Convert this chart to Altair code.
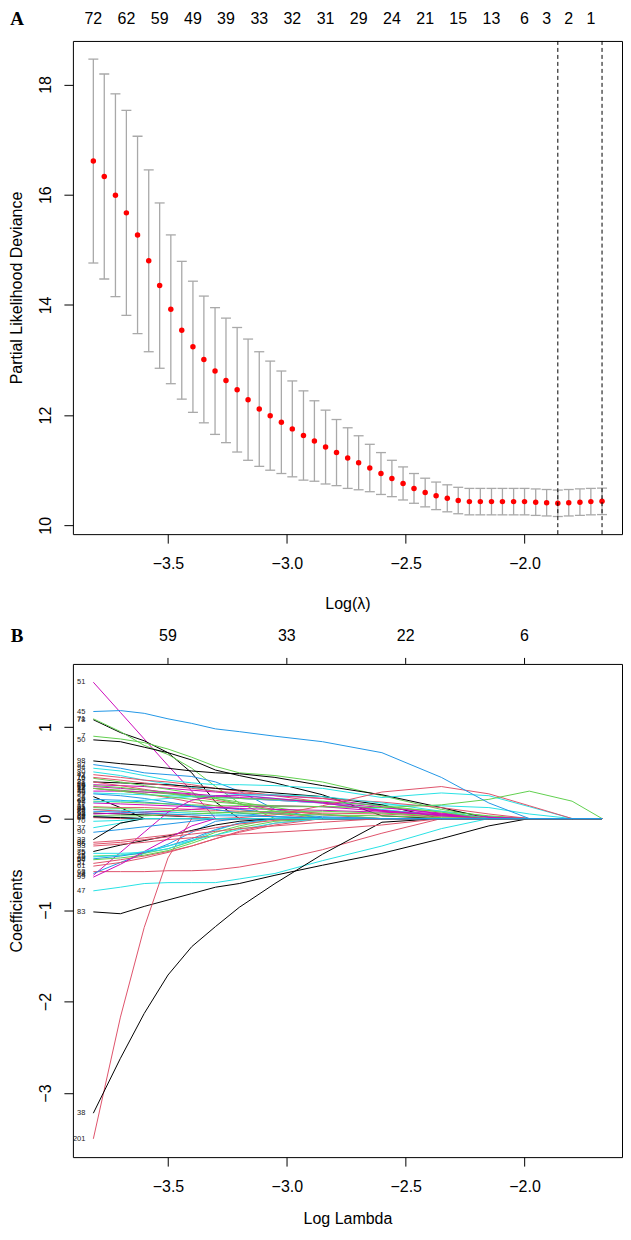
import altair as alt
import pandas as pd

# ---------------- Panel A: cross-validation curve ----------------
log_lambda = [-3.814, -3.768, -3.721, -3.675, -3.628, -3.581, -3.535, -3.488, -3.442, -3.395,
              -3.349, -3.302, -3.256, -3.209, -3.163, -3.116, -3.070, -3.023, -2.977, -2.930,
              -2.884, -2.837, -2.791, -2.744, -2.698, -2.651, -2.604, -2.558, -2.511, -2.465,
              -2.418, -2.372, -2.325, -2.279, -2.232, -2.186, -2.139, -2.093, -2.046, -2.000,
              -1.953, -1.907, -1.860, -1.814, -1.767, -1.721, -1.674]
cv_mean = [16.61, 16.33, 15.99, 15.67, 15.27, 14.80, 14.35, 13.92, 13.54, 13.24,
           13.01, 12.80, 12.63, 12.46, 12.28, 12.11, 11.99, 11.87, 11.75, 11.63,
           11.53, 11.42, 11.32, 11.22, 11.135, 11.04, 10.94, 10.85, 10.76, 10.67,
           10.595, 10.535, 10.49, 10.45, 10.43, 10.43, 10.43, 10.43, 10.43, 10.43,
           10.42, 10.41, 10.40, 10.41, 10.42, 10.43, 10.435]
cv_sd = [1.85, 1.86, 1.84, 1.86, 1.79, 1.65, 1.50, 1.35, 1.25, 1.19,
         1.15, 1.15, 1.13, 1.13, 1.10, 1.04, 0.99, 0.93, 0.87, 0.81,
         0.73, 0.67, 0.60, 0.55, 0.49, 0.43, 0.38, 0.33, 0.30, 0.27,
         0.26, 0.25, 0.245, 0.24, 0.24, 0.24, 0.24, 0.24, 0.24, 0.24,
         0.24, 0.24, 0.24, 0.24, 0.24, 0.24, 0.24]
nz_pos = [-3.814, -3.675, -3.535, -3.395, -3.256, -3.116, -2.977, -2.837, -2.698,
          -2.558, -2.418, -2.279, -2.139, -2.000, -1.907, -1.814, -1.721]
nz_labels = ["72", "62", "59", "49", "39", "33", "32", "31", "29", "24", "21",
             "15", "13", "6", "3", "2", "1"]
lambda_lines = [-1.860, -1.674]

# ---------------- Panel B: coefficient paths ----------------
knots = [-3.814, -3.70, -3.60, -3.50, -3.40, -3.30, -3.20, -3.05, -2.85, -2.60,
         -2.35, -2.15, -1.98, -1.80, -1.674]
top_b_ticks = [-3.5, -3.0, -2.5, -2.0]
top_b_labels = ["59", "33", "22", "6"]

coef_labels = ["51", "78", "71", "7", "50", "98", "92", "94", "80", "42",
               "88", "66", "21", "13", "35", "17", "59", "4", "26", "62",
               "19", "31", "44", "55", "28", "68", "87", "93", "16", "29",
               "74", "67", "97", "15", "84", "12",
               "83", "47", "63", "201", "38", "24", "8", "51", "5", "85",
               "75", "60", "33", "82", "37", "90", "32", "54", "61", "99",
               "46", "86", "2", "70", "95", "25", "45"]
coef_paths = [
    [1.49, 1.16, 0.87, 0.58, 0.30, 0, 0, 0, 0, 0, 0, 0, 0, 0, 0],
    [1.08, 0.94, 0.85, 0.72, 0.50, 0.18, 0, 0, 0, 0, 0, 0, 0, 0, 0],
    [1.09, 0.95, 0.80, 0.70, 0.55, 0.35, 0.17, 0, 0, 0, 0, 0, 0, 0, 0],
    [0.90, 0.87, 0.83, 0.76, 0.67, 0.57, 0.50, 0.47, 0.40, 0.25, 0.10, 0.02, 0, 0, 0],
    [0.86, 0.84, 0.78, 0.72, 0.64, 0.53, 0.47, 0.39, 0.26, 0.03, 0, 0, 0, 0, 0],
    [0.63, 0.60, 0.58, 0.55, 0.52, 0.50, 0.49, 0.45, 0.36, 0.26, 0.12, 0, 0, 0, 0],
    [0.59, 0.55, 0.50, 0.48, 0.46, 0.40, 0.30, 0.10, 0, 0, 0, 0, 0, 0, 0],
    [0.55, 0.52, 0.47, 0.42, 0.39, 0.37, 0.37, 0.36, 0.33, 0.23, 0.28, 0.25, 0.13, 0, 0],
    [0.51, 0.47, 0.42, 0.38, 0.34, 0.30, 0.26, 0.22, 0.18, 0.15, 0.14, 0.12, 0.05, 0, 0],
    [0.48, 0.45, 0.42, 0.40, 0.37, 0.33, 0.30, 0.25, 0.18, 0.08, 0, 0, 0, 0, 0],
    [0.40, 0.39, 0.38, 0.37, 0.35, 0.33, 0.31, 0.28, 0.24, 0.15, 0, 0, 0, 0, 0],
    [0.37, 0.36, 0.35, 0.33, 0.31, 0.29, 0.27, 0.25, 0.22, 0.13, 0.05, 0.02, 0, 0, 0],
    [0.40, 0.36, 0.32, 0.28, 0.24, 0.20, 0.16, 0.10, 0.04, 0, 0, 0, 0, 0, 0],
    [0.33, 0.31, 0.29, 0.27, 0.24, 0.22, 0.18, 0.12, 0.05, 0, 0, 0, 0, 0, 0],
    [0.30, 0.30, 0.29, 0.28, 0.26, 0.24, 0.22, 0.20, 0.17, 0.09, 0.05, 0, 0, 0, 0],
    [0.33, 0.30, 0.27, 0.23, 0.18, 0.14, 0.10, 0.05, 0, 0, 0, 0, 0, 0, 0],
    [0.28, 0.27, 0.26, 0.25, 0.24, 0.23, 0.22, 0.20, 0.17, 0.10, 0.03, 0, 0, 0, 0],
    [0.24, 0.12, 0, 0, 0, 0, 0, 0, 0, 0, 0, 0, 0, 0, 0],
    [0.21, 0.20, 0.18, 0.16, 0.14, 0.12, 0.10, 0.06, 0.02, 0, 0, 0, 0, 0, 0],
    [0.19, 0.18, 0.17, 0.16, 0.15, 0.14, 0.14, 0.13, 0.13, 0.12, 0.08, 0.03, 0, 0, 0],
    [0.17, 0.16, 0.15, 0.14, 0.13, 0.12, 0.11, 0.10, 0.09, 0.07, 0.04, 0.01, 0, 0, 0],
    [0.13, 0.12, 0.12, 0.11, 0.10, 0.09, 0.08, 0.07, 0.06, 0.05, 0.02, 0, 0, 0, 0],
    [0.10, 0.09, 0.08, 0.07, 0.06, 0.05, 0.04, 0.02, 0, 0, 0, 0, 0, 0, 0],
    [0.06, 0.05, 0.04, 0.03, 0.02, 0, 0, 0, 0, 0, 0, 0, 0, 0, 0],
    [0.03, 0.03, 0.03, 0.04, 0.05, 0.06, 0.07, 0.08, 0.08, 0.06, 0.03, 0, 0, 0, 0],
    [0.02, 0.01, 0, 0, 0, 0, 0, 0, 0, 0, 0, 0, 0, 0, 0],
    [0.01, 0, 0, 0, 0, 0, 0, 0, 0, 0, 0, 0, 0, 0, 0],
    [0.05, 0.06, 0.07, 0.08, 0.10, 0.12, 0.13, 0.14, 0.13, 0.08, 0.04, 0, 0, 0, 0],
    [0.44, 0.40, 0.36, 0.32, 0.28, 0.22, 0.16, 0.08, 0, 0, 0, 0, 0, 0, 0],
    [0.27, 0.25, 0.22, 0.18, 0.14, 0.10, 0.06, 0.02, 0, 0, 0, 0, 0, 0, 0],
    [0.45, 0.42, 0.39, 0.36, 0.33, 0.30, 0.28, 0.26, 0.22, 0.18, 0.12, 0.05, 0, 0, 0],
    [0.35, 0.33, 0.31, 0.29, 0.27, 0.25, 0.23, 0.21, 0.18, 0.12, 0.06, 0.01, 0, 0, 0],
    [0.18, 0.19, 0.20, 0.22, 0.24, 0.25, 0.26, 0.26, 0.24, 0.17, 0.08, 0, 0, 0, 0],
    [0.36, 0.34, 0.31, 0.28, 0.25, 0.23, 0.22, 0.21, 0.19, 0.14, 0.07, 0, 0, 0, 0],
    [0.10, 0.08, 0.06, 0.04, 0.02, 0, 0.01, 0.04, 0.14, 0.29, 0.35, 0.27, 0.14, 0, 0],
    [0.33, 0.30, 0.27, 0.24, 0.21, 0.18, 0.16, 0.14, 0.13, 0.12, 0.15, 0.21, 0.30, 0.19, 0],
    [-1.02, -1.04, -0.96, -0.89, -0.82, -0.75, -0.71, -0.62, -0.51, -0.38, -0.22, -0.08, 0, 0, 0],
    [-0.79, -0.75, -0.71, -0.70, -0.70, -0.70, -0.66, -0.60, -0.46, -0.30, -0.11, 0, 0, 0, 0],
    [-0.58, -0.58, -0.58, -0.57, -0.57, -0.56, -0.53, -0.46, -0.34, -0.16, 0, 0, 0, 0, 0],
    [-3.50, -2.17, -1.19, -0.43, 0, 0, 0, 0, 0, 0, 0, 0, 0, 0, 0],
    [-3.22, -2.62, -2.13, -1.71, -1.40, -1.18, -0.97, -0.71, -0.39, -0.04, 0, 0, 0, 0, 0],
    [-0.62, -0.37, -0.15, 0.07, 0.20, 0.25, 0.25, 0.22, 0.17, 0.09, 0.03, 0, 0, 0, 0],
    [-0.60, -0.48, -0.38, -0.28, -0.15, -0.03, 0, 0, 0, 0, 0, 0, 0, 0, 0],
    [-0.49, -0.45, -0.41, -0.36, -0.30, -0.22, -0.15, -0.07, 0, 0, 0, 0, 0, 0, 0],
    [-0.41, -0.40, -0.38, -0.33, -0.25, -0.15, -0.08, 0, 0, 0, 0, 0, 0, 0, 0],
    [-0.38, -0.38, -0.37, -0.33, -0.24, -0.13, -0.05, 0, 0, 0, 0, 0, 0, 0, 0],
    [-0.36, -0.29, -0.24, -0.19, -0.13, -0.07, -0.03, 0, 0, 0, 0, 0, 0, 0, 0],
    [-0.44, -0.41, -0.37, -0.30, -0.22, -0.12, -0.05, 0, 0, 0, 0, 0, 0, 0, 0],
    [-0.30, -0.28, -0.26, -0.23, -0.21, -0.19, -0.17, -0.15, -0.12, -0.07, 0, 0, 0, 0, 0],
    [-0.26, -0.24, -0.21, -0.18, -0.14, -0.10, -0.06, -0.02, 0, 0, 0, 0, 0, 0, 0],
    [-0.10, -0.05, 0, 0, 0, 0, 0, 0, 0, 0, 0, 0, 0, 0, 0],
    [-0.15, -0.12, -0.09, -0.06, -0.03, 0, 0, 0, 0, 0, 0, 0, 0, 0, 0],
    [-0.23, -0.05, 0, 0, 0, 0, 0, 0, 0, 0, 0, 0, 0, 0, 0],
    [-0.45, -0.43, -0.40, -0.35, -0.27, -0.18, -0.10, -0.03, 0, 0, 0, 0, 0, 0, 0],
    [-0.52, -0.48, -0.43, -0.37, -0.30, -0.22, -0.14, -0.05, 0, 0, 0, 0, 0, 0, 0],
    [-0.64, -0.50, -0.36, -0.22, -0.08, 0, 0, 0, 0, 0, 0, 0, 0, 0, 0],
    [-0.42, -0.40, -0.36, -0.30, -0.24, -0.18, -0.12, -0.05, 0, 0, 0, 0, 0, 0, 0],
    [-0.28, -0.26, -0.23, -0.20, -0.17, -0.14, -0.11, -0.08, -0.04, 0, 0, 0, 0, 0, 0],
    [0.02, 0.01, 0, 0, 0, 0, 0, 0, 0, 0, 0, 0, 0, 0, 0],
    [-0.03, -0.02, 0, 0, 0, 0, 0, 0, 0, 0, 0, 0, 0, 0, 0],
    [0.12, 0.11, 0.10, 0.09, 0.08, 0.07, 0.06, 0.05, 0.04, 0.03, 0.01, 0, 0, 0, 0],
    [0.08, 0.07, 0.06, 0.05, 0.04, 0.03, 0.03, 0.02, 0.01, 0, 0, 0, 0, 0, 0],
    [1.17, 1.18, 1.15, 1.09, 1.04, 0.98, 0.95, 0.90, 0.84, 0.72, 0.45, 0.17, 0, 0, 0],
]

# styles (R default palette)
K, R, G, B, C, M = "#000000", "#DF536B", "#61D04F", "#2297E6", "#28E2E5", "#CD0BBC"
coef_colors = [M, K, G, G, K, K, B, C, C, R,
               K, M, R, G, M, R, C, K, B, G,
               M, R, C, K, G, B, R, M, G, B,
               R, M, C, G, R, G,
               K, C, R, R, K, M, B, R, G, C,
               K, B, R, R, C, B, K, G, R, M,
               C, R, K, C, G, B, B]

FONT = "Liberation Sans"
FS = 16
W, H = 550, 494

# ---------- Panel A ----------
dfA = pd.DataFrame({"x": log_lambda, "m": cv_mean, "sd": cv_sd})
dfA["lo"] = dfA["m"] - dfA["sd"]
dfA["hi"] = dfA["m"] + dfA["sd"]

xscale = alt.Scale(domain=[-3.90, -1.59], nice=False, zero=False)
xaxis_A = alt.Axis(values=[-3.5, -3.0, -2.5, -2.0], format=".1f", title="Log(λ)",
                   labelPadding=12, titlePadding=24)
yscaleA = alt.Scale(domain=[9.84, 18.79], nice=False, zero=False)
yaxis_A = alt.Axis(values=[10, 12, 14, 16, 18], title="Partial Likelihood Deviance",
                   labelAngle=-90, labelAlign="center", labelBaseline="bottom",
                   labelPadding=10, titlePadding=13)

def xA():
    return alt.X("x:Q", scale=xscale, axis=xaxis_A)

def yA(f):
    return alt.Y(f, scale=yscaleA, axis=yaxis_A)

bars = alt.Chart(dfA).mark_rule(color="#A9A9A9", strokeWidth=1.3).encode(
    x=xA(), y=yA("lo:Q"), y2="hi:Q")
cap_hi = alt.Chart(dfA).mark_tick(orient="horizontal", color="#A9A9A9", size=10,
                                  thickness=1.3, opacity=1).encode(x=xA(), y=yA("hi:Q"))
cap_lo = alt.Chart(dfA).mark_tick(orient="horizontal", color="#A9A9A9", size=10,
                                  thickness=1.3, opacity=1).encode(x=xA(), y=yA("lo:Q"))
pts = alt.Chart(dfA).mark_circle(color="#FF0000", size=30, opacity=1).encode(
    x=xA(), y=yA("m:Q"))
vl = alt.Chart(pd.DataFrame({"x": lambda_lines})).mark_rule(
    color="black", strokeDash=[4, 3], strokeWidth=1).encode(x=xA())
topA = alt.Chart(pd.DataFrame({"x": nz_pos, "t": nz_labels})).mark_text(
    font=FONT, fontSize=FS, baseline="middle", color="black").encode(
    x=xA(), y=alt.value(-22), text="t:N")
letterA = alt.Chart(pd.DataFrame({"t": ["A"]})).mark_text(
    font="Liberation Serif", fontSize=19, fontWeight="bold", baseline="middle",
    color="black").encode(x=alt.value(-56), y=alt.value(-22), text="t:N")

panelA = alt.layer(bars, cap_hi, cap_lo, pts, vl, topA, letterA).properties(width=W, height=H)

# ---------- Panel B ----------
rows = []
for i, (lab, vals) in enumerate(zip(coef_labels, coef_paths)):
    for xv, yv in zip(knots, vals):
        rows.append({"id": str(i), "x": xv, "y": yv})
dfB = pd.DataFrame(rows)
ids = [str(i) for i in range(len(coef_labels))]
dfLab = pd.DataFrame({"x": [knots[0]] * len(coef_labels),
                      "y": [p[0] for p in coef_paths], "t": coef_labels})

xaxis_B = alt.Axis(values=[-3.5, -3.0, -2.5, -2.0], format=".1f", title="Log Lambda",
                   labelPadding=12, titlePadding=16)
yscaleB = alt.Scale(domain=[-3.70, 1.69], nice=False, zero=False)
yaxis_B = alt.Axis(values=[-3, -2, -1, 0, 1], format="d", title="Coefficients",
                   labelAngle=-90, labelAlign="center", labelBaseline="bottom",
                   labelPadding=10, titlePadding=13)

def xB():
    return alt.X("x:Q", scale=xscale, axis=xaxis_B)

def yB(f):
    return alt.Y(f, scale=yscaleB, axis=yaxis_B)

lines = alt.Chart(dfB).mark_line(strokeWidth=1, clip=True).encode(
    x=xB(), y=yB("y:Q"),
    color=alt.Color("id:N", scale=alt.Scale(domain=ids, range=coef_colors), legend=None))
labs = alt.Chart(dfLab).mark_text(font=FONT, fontSize=7.5, align="right", dx=-8,
                                  baseline="middle", color="#222222", clip=True).encode(
    x=xB(), y=yB("y:Q"), text="t:N")
dfTopB = pd.DataFrame({"x": top_b_ticks, "t": top_b_labels})
topTicks = alt.Chart(dfTopB).mark_rule(color="black", strokeWidth=1).encode(
    x=xB(), y=alt.value(-6), y2=alt.value(0))
topB = alt.Chart(dfTopB).mark_text(font=FONT, fontSize=FS, baseline="middle",
                                   color="black").encode(
    x=xB(), y=alt.value(-28), text="t:N")
letterB = alt.Chart(pd.DataFrame({"t": ["B"]})).mark_text(
    font="Liberation Serif", fontSize=19, fontWeight="bold", baseline="middle",
    color="black").encode(x=alt.value(-56), y=alt.value(-28), text="t:N")

panelB = alt.layer(lines, labs, topTicks, topB, letterB).properties(width=W, height=H)

chart = alt.vconcat(panelA, panelB, spacing=14).properties(
    padding={"left": 0, "top": 0, "right": 0, "bottom": 0}
).configure(font=FONT).configure_view(
    stroke="black", strokeWidth=1
).configure_axis(
    grid=False, domain=False, tickColor="black", tickSize=9, tickWidth=1,
    labelFont=FONT, labelFontSize=FS, labelColor="black", labelOverlap=False,
    titleFont=FONT, titleFontSize=FS, titleFontWeight="normal", titleColor="black"
)

chart.save("out.html", embed_options={"renderer": "svg", "actions": False})
